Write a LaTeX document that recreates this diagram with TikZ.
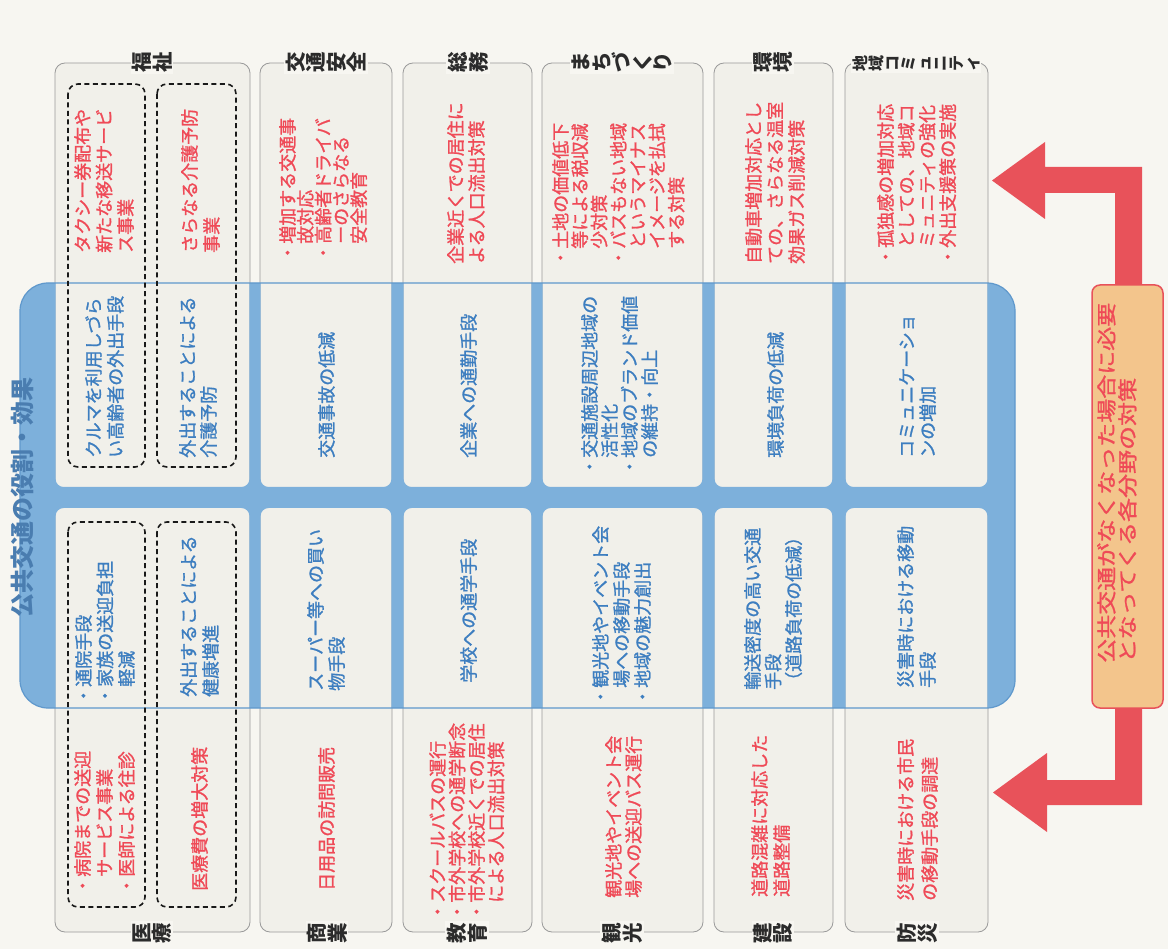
\documentclass[tikz,border=0pt]{standalone}
\usepackage{fontspec}
\newfontfamily\jp{Noto Sans CJK JP}
\newfontfamily\jpm[FakeBold=1.2]{Noto Sans CJK JP}
\definecolor{pagebg}{HTML}{F7F6F1}
\definecolor{boxfill}{HTML}{F1F0EA}
\definecolor{boxline}{HTML}{9A9A9A}
\definecolor{bandblue}{HTML}{7DB0DB}
\definecolor{bandline}{HTML}{5F98CC}
\definecolor{bluetext}{HTML}{3D7EC0}
\definecolor{redtext}{HTML}{EF4A57}
\definecolor{labeltext}{HTML}{2B2B2B}
\definecolor{titleblue}{HTML}{4A7DB0}
\definecolor{orangefill}{HTML}{F3C58C}
\definecolor{arrowred}{HTML}{E8525A}
\tikzset{
  colbox/.style={draw=boxline, fill=boxfill, line width=0.8pt, rounded corners=10pt},
  dbox/.style={draw=black!90, dash pattern=on 5pt off 3.5pt, line width=1.6pt, rounded corners=10pt},
  txt/.style={rotate=90, anchor=north west, inner sep=0pt, align=left},
  lab/.style={rotate=90, fill=pagebg, inner sep=1.5pt, align=center, text=labeltext,
    font=\jp\bfseries\fontsize{20.5}{20.5}\selectfont},
}
\newcommand\tblock[6]{%
  \node[txt, text=#5, font=\jpm\fontsize{18}{#4}\selectfont] (#1) at ({#2-8},#3) {#6};}
\begin{document}
\begin{tikzpicture}[x=1pt,y=-1pt]
\fill[pagebg] (0,0) rectangle (1168,949);
\useasboundingbox (0,0) rectangle (1168,949);

% column boxes
\path[colbox] (55,63) rectangle (250,932);
\path[colbox] (260,63) rectangle (392,932);
\path[colbox] (403,63) rectangle (532,932);
\path[colbox] (542,63) rectangle (703,932);
\path[colbox] (714,63) rectangle (833,932);
\path[colbox] (845,63) rectangle (988,932);

% blue band
\begin{scope}
\clip[rounded corners=28pt] (20,283) rectangle (1015,708);
\fill[bandblue, even odd rule] (0,270) rectangle (1030,720)
  [rounded corners=8pt]
  (55.6,270) rectangle (249.4,487) (55.6,508) rectangle (249.4,720)
  (260.6,270) rectangle (391.4,487) (260.6,508) rectangle (391.4,720)
  (403.6,270) rectangle (531.4,487) (403.6,508) rectangle (531.4,720)
  (542.6,270) rectangle (702.4,487) (542.6,508) rectangle (702.4,720)
  (714.6,270) rectangle (832.4,487) (714.6,508) rectangle (832.4,720)
  (845.6,270) rectangle (987.4,487) (845.6,508) rectangle (987.4,720);
\end{scope}
\draw[bandline, line width=1.2pt, rounded corners=28pt] (20,283) rectangle (1015,708);

% dashed boxes
\path[dbox] (68,84) rectangle (145,467);
\path[dbox] (157,84) rectangle (236,467);
\path[dbox] (68,522) rectangle (145,907);
\path[dbox] (157,522) rectangle (236,907);

% title
\node[txt, text=titleblue, font=\jp\bfseries\fontsize{24}{24}\selectfont] (title) at (11,618) {公共交通の役割・効果};

% column 1
\tblock{r1}{82}{253}{21.5}{redtext}{タクシー券配布や\\新たな移送サービ\\ス事業}
\tblock{r2}{189}{253}{22}{redtext}{さらなる介護予防\\事業}
\tblock{b1}{93}{458}{22}{bluetext}{クルマを利用しづら\\い高齢者の外出手段}
\tblock{b2}{187}{458}{21}{bluetext}{外出することによる\\介護予防}
\tblock{b3}{83}{705}{21.5}{bluetext}{・通院手段\\・家族の送迎負担\\　軽減}
\tblock{b4}{188}{697}{22}{bluetext}{外出することによる\\健康増進}
\tblock{r3}{82}{895}{22}{redtext}{・病院までの送迎\\　サービス事業\\・医師による往診}
\tblock{r4}{199}{891}{18}{redtext}{医療費の増大対策}
% column 2
\tblock{r5}{287}{262}{17.8}{redtext}{・増加する交通事\\　故対応\\・高齢者ドライバ\\　ーのさらなる\\　安全教育}
\tblock{b5}{326}{458}{18}{bluetext}{交通事故の低減}
\tblock{b6}{315}{691}{21}{bluetext}{スーパー等への買い\\物手段}
\tblock{r6}{326}{891}{18}{redtext}{日用品の訪問販売}
% column 3
\tblock{r7}{455}{264}{21}{redtext}{企業近くでの居住に\\よる人口流出対策}
\tblock{b7}{468}{458}{18}{bluetext}{企業への通勤手段}
\tblock{b8}{468}{683}{18}{bluetext}{学校への通学手段}
\tblock{r8}{437}{921}{19.5}{redtext}{・スクールバスの運行\\・市外学校への通学断念\\・市外学校近くでの居住\\　による人口流出対策}
% column 4
\tblock{r9}{560}{267}{19.3}{redtext}{・土地の価値低下\\　等による税収減\\　少対策\\・バスもない地域\\　というマイナス\\　イメージを払拭\\　する対策}
\tblock{b9}{589}{476}{20}{bluetext}{・交通施設周辺地域の\\　活性化\\・地域のブランド価値\\　の維持・向上}
\tblock{b10}{600}{706}{21}{bluetext}{・観光地やイベント会\\　場への移動手段\\・地域の魅力創出}
\tblock{r10}{613}{898}{20}{redtext}{観光地やイベント会\\場への送迎バス運行}
% column 5
\tblock{r11}{753}{264}{21.5}{redtext}{自動車増加対応とし\\ての、さらなる温室\\効果ガス削減対策}
\tblock{b11}{775}{458}{18}{bluetext}{環境負荷の低減}
\tblock{b12}{752}{690}{20.5}{bluetext}{輸送密度の高い交通\\手段\\（道路負荷の低減）}
\tblock{r12}{759}{897}{22}{redtext}{道路混雑に対応した\\道路整備}
% column 6
\tblock{r13}{885}{266}{20.7}{redtext}{・孤独感の増加対応\\　としての、地域コ\\　ミュニティの強化\\・外出支援策の実施}
\tblock{b13}{907}{458}{21}{bluetext}{コミュニケーショ\\ンの増加}
\tblock{b14}{905}{688}{22}{bluetext}{災害時における移動\\手段}
\tblock{r14}{905}{901}{24}{redtext}{災害時における市民\\の移動手段の調達}

% labels
\node[lab] (l1t) at (152,62) {福\\祉};
\node[lab] (l2t) at (326,62) {交\\通\\安\\全};
\node[lab] (l3t) at (468,62) {総\\務};
\node[lab] (l4t) at (622,62) {ま\\ち\\づ\\く\\り};
\node[lab] (l5t) at (773,62) {環\\境};
\node[lab, font=\jp\bfseries\fontsize{16}{16}\selectfont] (l6t) at (916,64) {地\\域\\コ\\ミ\\ュ\\ニ\\テ\\ィ};
\node[lab] (l1b) at (152,933) {医\\療};
\node[lab] (l2b) at (327,933) {商\\業};
\node[lab] (l3b) at (467,933) {教\\育};
\node[lab] (l4b) at (622,933) {観\\光};
\node[lab] (l5b) at (773,933) {建\\設};
\node[lab] (l6b) at (917,933) {防\\災};

% red arrows
\coordinate (topbend) at (1142,167);
\coordinate (botbend) at (1142,805);
\fill[arrowred] (1142,290) -- (topbend) -- (1045,167) -- (1045,142) -- (992,180.5)
  -- (1045,219) -- (1045,193) -- (1115,193) -- (1115,290) -- cycle;
\fill[arrowred] (1115,700) -- (1115,780) -- (1047,780) -- (1047,753) -- (993,792.5)
  -- (1047,832) -- (1047,805) -- (botbend) -- (1142,700) -- cycle;

% need box
\node[draw=arrowred, fill=orangefill, line width=1.5pt, rounded corners=8pt,
  minimum width=71pt, minimum height=423pt, inner sep=0pt] (need) at (1127.5,496.5) {};
\node[txt, text=redtext, yscale=0.82, font=\jpm\fontsize{24}{25.6}\selectfont] (needtxt) at (1097,663)
  {公共交通がなくなった場合に必要\\となってくる各分野の対策};
\end{tikzpicture}
\end{document}
